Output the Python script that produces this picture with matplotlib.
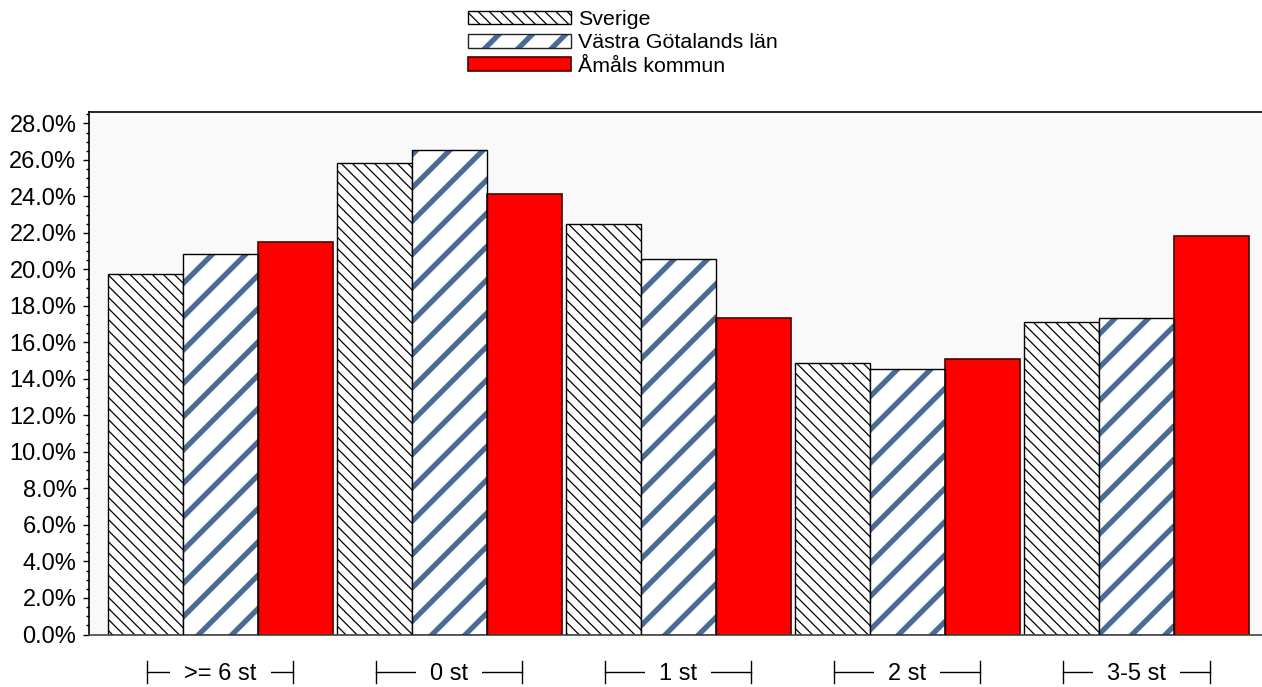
import numpy as np
import matplotlib
matplotlib.use("Agg")
import matplotlib.pyplot as plt
import matplotlib.transforms as mtransforms
from matplotlib.patches import Patch

plt.rcParams['font.family'] = ['Liberation Sans', 'DejaVu Sans']

# data (percent)
categories = [">= 6 st", "0 st", "1 st", "2 st", "3-5 st"]
series_names = ["Sverige", "Västra Götalands län", "Åmåls kommun"]
sverige = [19.73, 25.83, 22.47, 14.89, 17.11]
vastra = [20.86, 26.54, 20.60, 14.54, 17.33]
amal = [21.48, 24.15, 17.33, 15.09, 21.86]

BLUE = '#4a6b94'
RED = '#ff0000'
HATCH_LW = {'\\\\\\': 0.9, '/': 3.8}


def set_hatch_lw(artist):
    lw = HATCH_LW.get(artist.get_hatch())
    if lw is not None and hasattr(artist, 'set_hatch_linewidth'):
        artist.set_hatch_linewidth(lw)


fig = plt.figure(figsize=(12.62, 6.87), dpi=100)
ax = fig.add_axes([89 / 1262, 52.5 / 687, 1173 / 1262, 522.5 / 687])
ax.set_facecolor('#f9f9f9')

x = np.arange(len(categories))
w = 75 / 229

# Sverige: black back-slash hatch
b1 = ax.bar(x - w, sverige, w, color='white', edgecolor='black',
            hatch='\\\\\\', linewidth=1.0, zorder=2)
for p in b1:
    set_hatch_lw(p)

# Västra Götaland: thick blue stripes, black outline drawn on top
b2 = ax.bar(x, vastra, w, color='white', edgecolor=BLUE, hatch='/',
            linewidth=0, zorder=2)
for p in b2:
    set_hatch_lw(p)
ax.bar(x, vastra, w, color='none', edgecolor='black', linewidth=1.0, zorder=3)

# Åmål: solid red
ax.bar(x + w, amal, w, color=RED, edgecolor='#4d0000', linewidth=1.2, zorder=2)

ax.set_xlim(-0.574, 4.548)
ax.set_ylim(0, 28.63)
ax.set_yticks(np.arange(0, 28.1, 2))
ax.set_yticks(np.arange(0, 28.6, 0.5), minor=True)
ax.set_yticklabels([f"{v:.1f}%" for v in np.arange(0, 28.1, 2)])
ax.tick_params(axis='y', which='major', length=4, width=1, labelsize=17, pad=5)
ax.tick_params(axis='y', which='minor', length=2, width=1)
ax.set_xticks([])

ax.spines['right'].set_visible(False)
for s in ['left', 'top']:
    ax.spines[s].set_linewidth(1.2)
    ax.spines[s].set_color('black')
ax.spines['bottom'].set_color('#444444')
ax.spines['bottom'].set_linewidth(1.2)

# category labels with |— label —| brackets
trans = mtransforms.blended_transform_factory(ax.transData, ax.transAxes)
half = 73 / 229
yl = (634.5 - 672) / 522.5
ya = (634.5 - 661) / 522.5
yb = (634.5 - 683) / 522.5
for i, cat in enumerate(categories):
    ax.plot([i - half, i + half], [yl, yl], color='black', lw=1,
            transform=trans, clip_on=False, zorder=1)
    for xe in (i - half, i + half):
        ax.plot([xe, xe], [ya, yb], color='black', lw=1,
                transform=trans, clip_on=False, zorder=1)
    ax.text(i, yl - 0.003, cat, ha='center', va='center', fontsize=17,
            transform=trans, zorder=5,
            bbox=dict(facecolor='white', edgecolor='none', pad=10))

# legend
h1 = Patch(facecolor='white', edgecolor='black', hatch='\\\\\\', linewidth=1.0)
h2 = (Patch(facecolor='white', edgecolor=BLUE, hatch='/', linewidth=0),
      Patch(facecolor='none', edgecolor='#222222', linewidth=1.0))
h3 = Patch(facecolor=RED, edgecolor='#4d0000', linewidth=1.2)
leg = fig.legend([h1, h2, h3], series_names, loc='upper left',
                 bbox_to_anchor=(468 / 1262, 1 - 10 / 687), frameon=False,
                 fontsize=15.4, handlelength=4.8, handleheight=0.6,
                 handletextpad=0.33, labelspacing=0.2, borderpad=0,
                 borderaxespad=0)
for p in leg.get_patches():
    set_hatch_lw(p)

fig.savefig('out.png', dpi=100)
